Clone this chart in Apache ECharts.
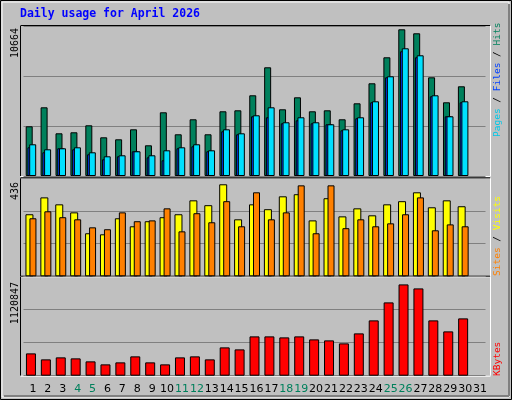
<!DOCTYPE html>
<html><head><meta charset="utf-8">
<script src="https://cdn.jsdelivr.net/npm/echarts@6/dist/echarts.min.js"></script>
<style>html,body{margin:0;padding:0;background:#c0c0c0}#c{width:512px;height:400px}</style>
</head><body><div id="c"></div>
<script>
const days = Array.from({length:31},(_, i)=>String(i+1));
const weekend = ['4','5','11','12','18','19','25','26'];
const hits = [3613,4994,3104,3177,3686,2813,2668,3395,2232,4631,3032,4122,3032,4704,4776,5867,7902,4849,5721,4704,4776,4122,5285,6739,8629,10664,10374,7175,5358,6521,null];
const files = [2305,1941,2014,2086,1723,1432,1505,1796,1505,1868,2086,2305,1868,3395,3104,4413,4994,3904,4268,3904,3759,3395,4268,5431,7248,9284,8775,5867,4340,5431,null];
const pages = [2086,1723,2014,1941,1578,1214,1432,1796,1359,1141,2014,2159,1796,3250,3032,4340,4268,3831,4049,3831,3759,3322,4195,5358,7175,9066,8629,5794,4340,5358,null];
const visits = [294,374,341,303,204,199,275,237,261,280,294,360,337,436,270,341,318,379,389,265,370,284,322,289,341,356,398,327,360,332,null];
const sites = [275,308,280,270,232,223,303,261,265,322,213,299,256,356,237,398,270,303,431,204,431,228,270,237,251,294,374,218,246,237,null];
const kbytes = [274077,200444,224989,212716,175900,139084,163628,237261,163628,139084,224989,237261,200444,347710,323165,482703,482703,470430,482703,445886,433614,396797,519519,679056,899954,1120847,1071763,679056,544063,703600,null];
const maxLabels = ['10664','436','1120847'];

const M1=10904, M2=464.4, M3=1215400;
const chart = echarts.init(document.getElementById('c'));
const grids=[{left:23.5,width:462,top:26,height:150},{left:23.5,width:462,top:178.3,height:98},{left:23.5,width:462,top:276.7,height:99}];
const xA = (i,show)=>({type:'category',gridIndex:i,data:days,axisLine:{show:false},axisTick:{show:false},
  axisLabel:{show:show,interval:0,padding:[0,0,0,4],margin:8,fontFamily:'DejaVu Sans',fontSize:11,
    color:(v)=>weekend.includes(v)?'#00805c':'#000'}});
const yA = (i,m)=>({type:'value',gridIndex:i,min:0,max:m,interval:m/3,axisLabel:{show:false},axisLine:{show:false},axisTick:{show:false},
  splitLine:{lineStyle:{color:'#808080',width:1}}});
const bs = (name,d,xi,color,w,gap)=>({type:'bar',name,data:d,xAxisIndex:xi,yAxisIndex:xi,barWidth:w,barGap:gap,
  itemStyle:{color,borderColor:'#000',borderWidth:1},animation:false,silent:true});
function frame(g){return [
  {type:'line',shape:{x1:20.5,y1:g.top-0.5,x2:490,y2:g.top-0.5},style:{stroke:'#000',lineWidth:1}},
  {type:'line',shape:{x1:20.5,y1:g.top,x2:20.5,y2:g.top+g.height},style:{stroke:'#000',lineWidth:1}},
  {type:'line',shape:{x1:490.5,y1:g.top,x2:490.5,y2:g.top+g.height},style:{stroke:'#fff',lineWidth:1}},
  {type:'line',shape:{x1:20.5,y1:g.top+g.height+0.5,x2:490.5,y2:g.top+g.height+0.5},style:{stroke:'#fff',lineWidth:1}}];}
const mono='DejaVu Sans Mono';
const graphic=[
  {type:'rect',shape:{x:0.5,y:0.5,width:511,height:399},style:{fill:'none',stroke:'#000',lineWidth:1},z:-1},
  {type:'rect',shape:{x:2,y:2,width:507,height:395},style:{fill:'none',stroke:'#fff',lineWidth:1},z:-1},
  {type:'line',shape:{x1:4,y1:396,x2:509,y2:396},style:{stroke:'#808080',lineWidth:2}},
  {type:'line',shape:{x1:509,y1:4,x2:509,y2:396},style:{stroke:'#808080',lineWidth:2}},
  {type:'text',x:20,y:8,style:{text:'Daily usage for April 2026',font:'bold 11.5px '+mono,fill:'#0000ff'}},
  {type:'text',x:15,y:28,rotation:Math.PI/2,style:{text:maxLabels[0],font:'10px '+mono,fill:'#000',align:'right',verticalAlign:'middle'}},
  {type:'text',x:15,y:182,rotation:Math.PI/2,style:{text:maxLabels[1],font:'10px '+mono,fill:'#000',align:'right',verticalAlign:'middle'}},
  {type:'text',x:15,y:282,rotation:Math.PI/2,style:{text:maxLabels[2],font:'10px '+mono,fill:'#000',align:'right',verticalAlign:'middle'}},
  {type:'text',x:498,y:137,rotation:Math.PI/2,style:{text:'{a|Pages}{s| / }{b|Files}{s| / }{c|Hits}',align:'left',verticalAlign:'middle',
    rich:{a:{fill:'#00c8e8',font:'9.5px '+mono},b:{fill:'#0040ff',font:'9.5px '+mono},c:{fill:'#00805c',font:'9.5px '+mono},s:{fill:'#000',font:'9.5px '+mono}}}},
  {type:'text',x:498,y:276,rotation:Math.PI/2,style:{text:'{a|Sites}{s| / }{b|Visits}',align:'left',verticalAlign:'middle',
    rich:{a:{fill:'#ff8000',font:'9.5px '+mono},b:{fill:'#ffff00',font:'9.5px '+mono},s:{fill:'#000',font:'9.5px '+mono}}}},
  {type:'text',x:498,y:376,rotation:Math.PI/2,style:{text:'KBytes',font:'9.5px '+mono,fill:'#ff0000',align:'left',verticalAlign:'middle'}},
  ...frame(grids[0]),...frame(grids[1]),...frame(grids[2])
];
chart.setOption({
  backgroundColor:'#c0c0c0',animation:false,
  grid:grids,
  xAxis:[xA(0,false),xA(1,false),xA(2,true)],
  yAxis:[yA(0,M1),yA(1,M2),yA(2,M3)],
  series:[
    bs('Hits',hits,0,'#00805c',7,'-75%'),
    bs('Pages',pages,0,'#0040ff',7,'-75%'),
    bs('Files',files,0,'#00e0ff',7,'-75%'),
    bs('Visits',visits,1,'#ffff00',8,'-50%'),
    bs('Sites',sites,1,'#ff8000',7,'-50%'),
    bs('KBytes',kbytes,2,'#ff0000',10,'0%')
  ],
  graphic:graphic
});
</script></body></html>
